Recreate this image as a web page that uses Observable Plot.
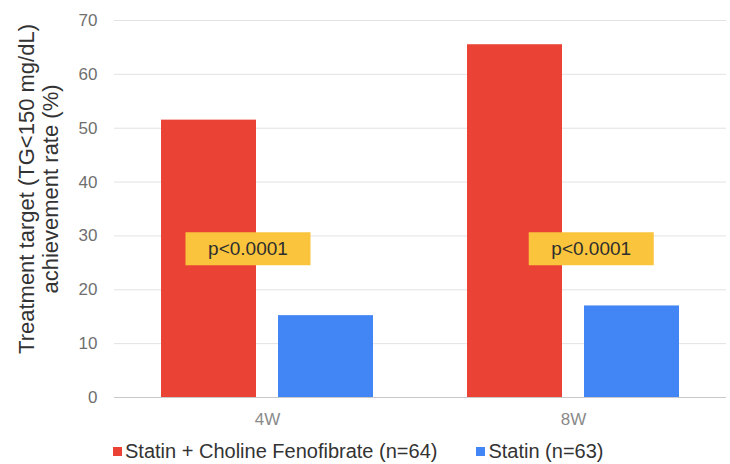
<!DOCTYPE html>
<html>
<head>
<meta charset="utf-8">
<script src="https://cdn.jsdelivr.net/npm/d3@7"></script>
<script src="https://cdn.jsdelivr.net/npm/@observablehq/plot@0.6"></script>
<style>
  body { margin: 0; background: #fff; font-family: "Liberation Sans", Arial, sans-serif; }
  #chart { width: 730px; height: 464px; overflow: hidden; }
  .legend { display: flex; align-items: center; height: 26px; padding-left: 113px;
            font-size: 20px; color: #333; white-space: nowrap; }
  .legend .item { display: flex; align-items: center; margin-right: 39px; }
  .legend .sw { width: 9px; height: 9px; margin-right: 3px; }
</style>
</head>
<body>
<div id="chart"></div>
<script>
// Treatment periods and study arms
const weeks = ["4W", "8W"];
const series = ["Statin + Choline Fenofibrate (n=64)", "Statin (n=63)"];
const colors = ["#EA4335", "#4285F4"];

// Achievement rate (%) per arm, one value per period
const comboRate = [51.5, 65.5];
const statinRate = [15.2, 17.0];

// Significance labels per period and the rate level they sit at
const pLabels = ["p<0.0001", "p<0.0001"];
const pLabelLevel = [27.6, 27.6];

const yTicks = [0, 10, 20, 30, 40, 50, 60, 70];
const yTitle = "Treatment target (TG<150 mg/dL)\nachievement rate (%)";

const rows = weeks.flatMap((w, i) => [
  {week: w, series: series[0], value: comboRate[i]},
  {week: w, series: series[1], value: statinRate[i]}
]);
const notes = weeks.map((w, i) => ({week: w, text: pLabels[i], y: pLabelLevel[i]}));

// Rectangular badge drawn behind the p-value text
const badge = {draw(ctx) { ctx.rect(-62.5, -16.5, 125, 33); }};

const noteMarks = (i, dx) => [
  Plot.dot(notes.filter(d => d.week === weeks[i]), {
    fx: "week", y: "y", symbol: badge, r: 10, fill: "#FAC53C", stroke: null, dx
  }),
  Plot.text(notes.filter(d => d.week === weeks[i]), {
    fx: "week", y: "y", text: "text", dx, fontSize: 19, fill: "#2e2e2e"
  })
];

const chart = Plot.plot({
  width: 730,
  height: 438,
  marginLeft: 113,
  marginRight: 4,
  marginTop: 20,
  marginBottom: 41,
  style: {fontFamily: "'Liberation Sans', Arial, sans-serif", background: "#fff"},
  fx: {domain: weeks, padding: 0, label: null},
  x: {domain: series, paddingInner: 0.187, paddingOuter: 0.398, axis: null},
  y: {domain: [0, 70], axis: null},
  color: {domain: series, range: colors},
  marks: [
    Plot.gridY(yTicks, {stroke: "#e2e2e2", strokeOpacity: 1}),
    Plot.ruleY([0], {stroke: "#c8c8c8"}),
    Plot.barY(rows, {fx: "week", x: "series", y: "value", fill: "series"}),
    ...noteMarks(0, -19.5),
    ...noteMarks(1, 17.75),
    Plot.axisY({ticks: yTicks, tickSize: 0, tickPadding: 17, fontSize: 17, color: "#6f6f6f", label: null}),
    Plot.axisFx({anchor: "bottom", tickSize: 0, tickPadding: 15, fontSize: 17, color: "#8a8a8a", label: null}),
    Plot.text([yTitle], {
      fx: () => weeks[0], text: d => d, frameAnchor: "left", rotate: -90,
      textAnchor: "middle", lineAnchor: "top", dx: -97, dy: -20,
      fontSize: 22, lineHeight: 1.07, fill: "#333"
    })
  ]
});

const root = document.getElementById("chart");
root.appendChild(chart);

// Legend row under the plot
const legend = document.createElement("div");
legend.className = "legend";
series.forEach((s, i) => {
  const item = document.createElement("div");
  item.className = "item";
  const sw = document.createElement("span");
  sw.className = "sw";
  sw.style.background = colors[i];
  const label = document.createElement("span");
  label.textContent = s;
  item.append(sw, label);
  legend.appendChild(item);
});
root.appendChild(legend);
</script>
</body>
</html>
